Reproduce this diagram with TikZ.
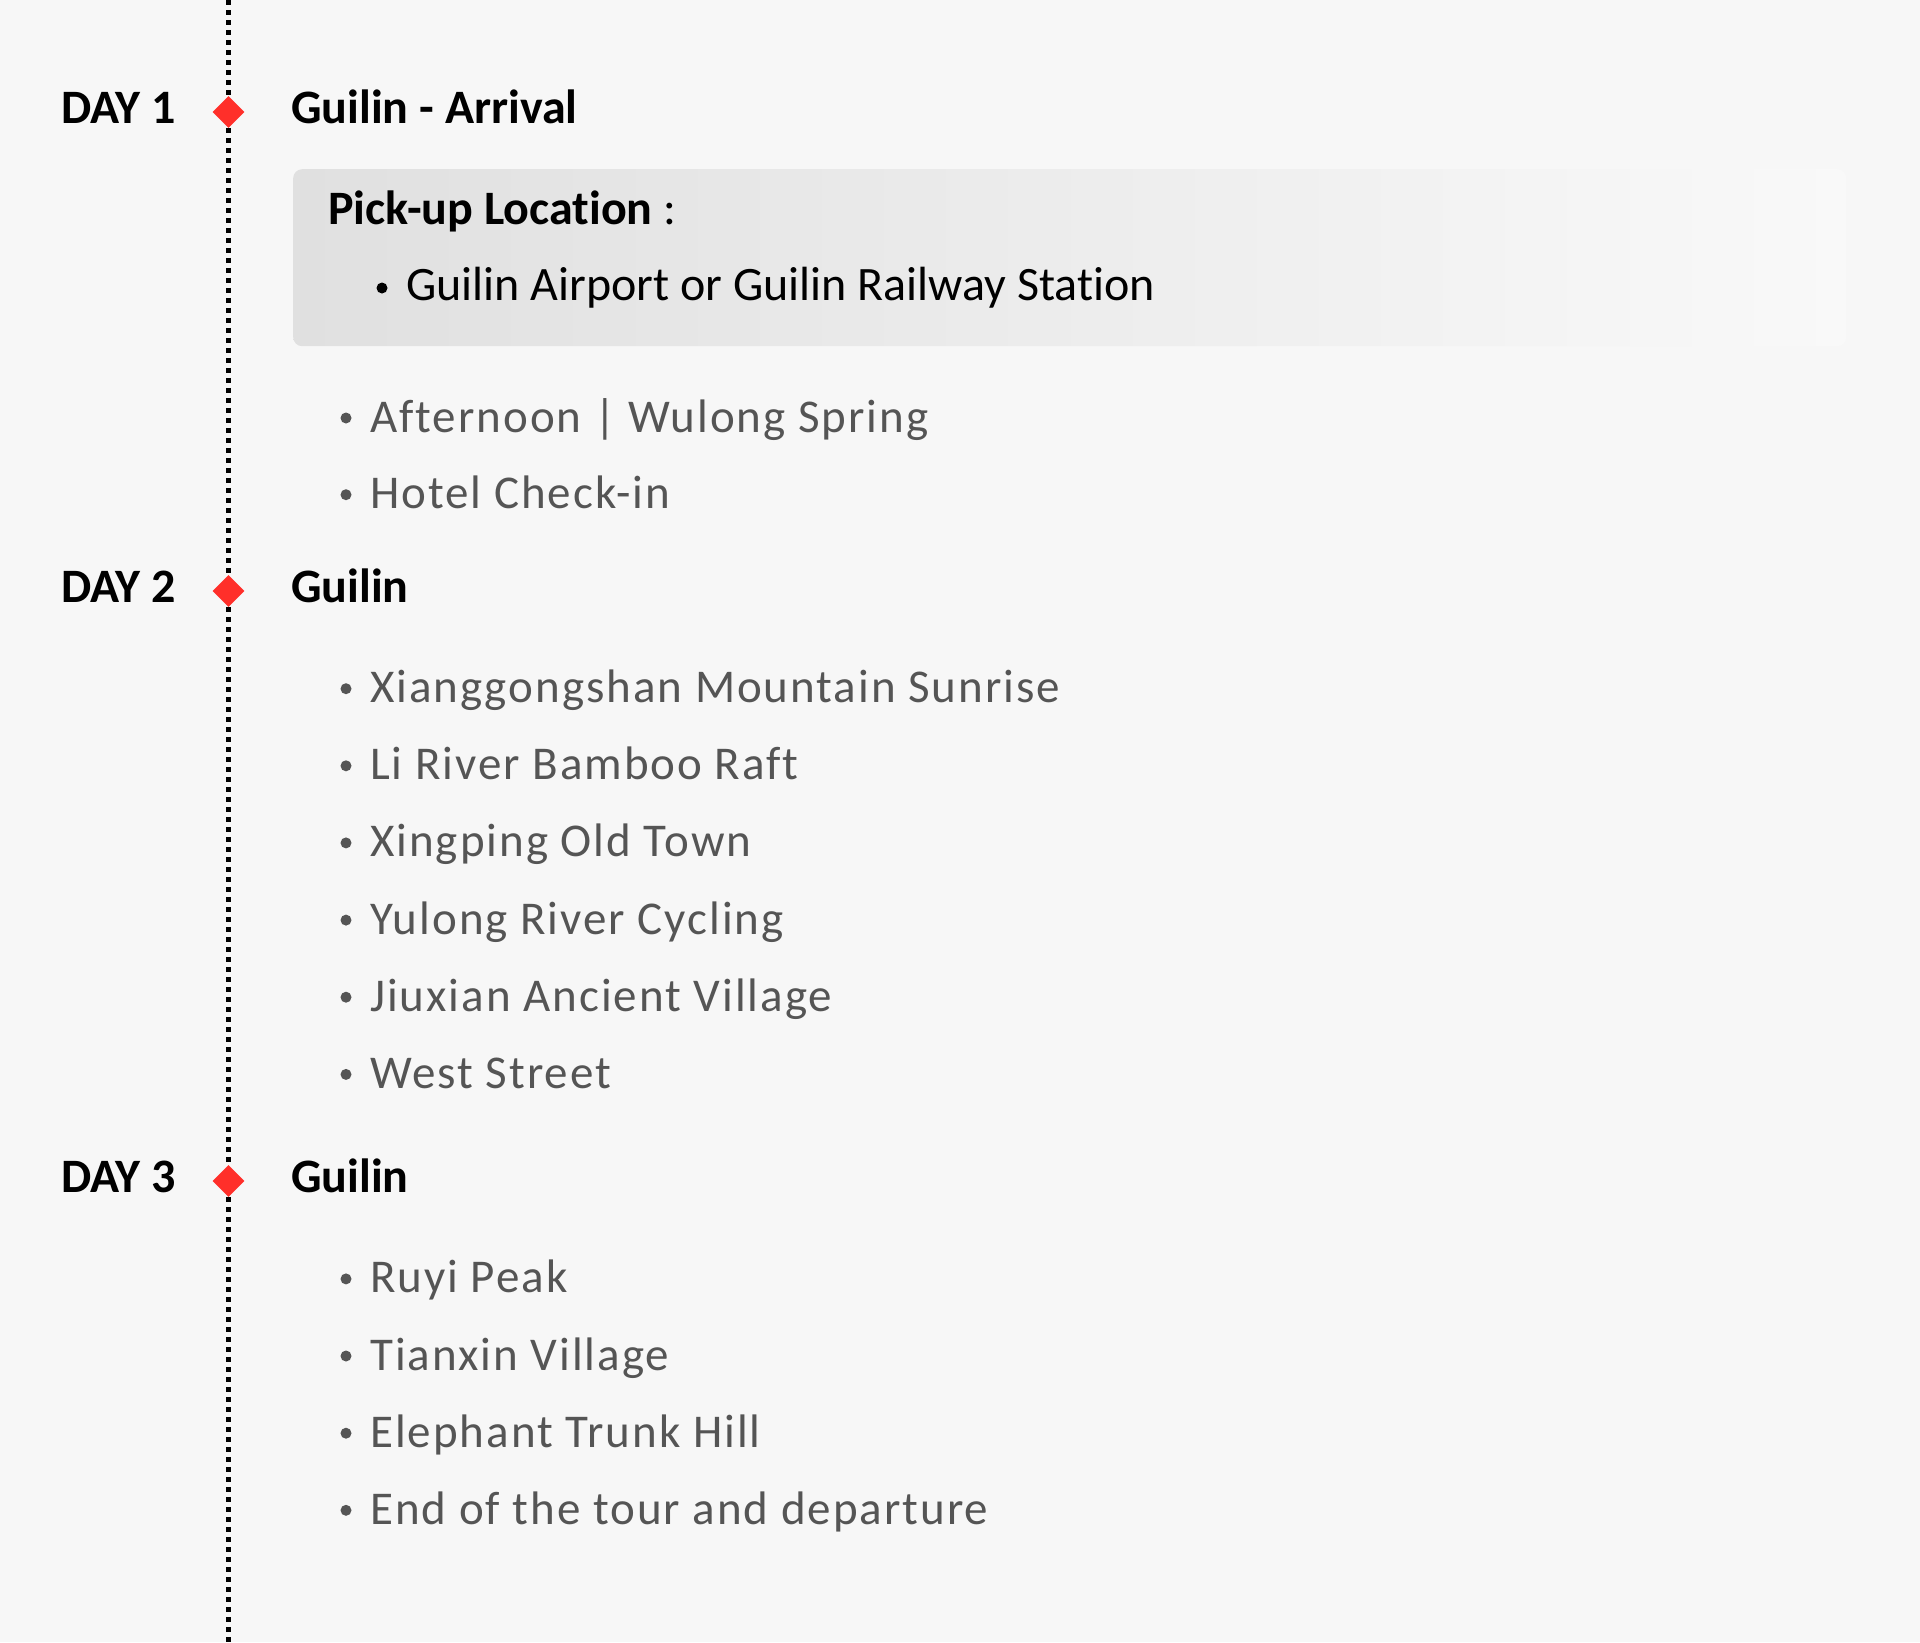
\documentclass[tikz,border=0pt]{standalone}
\usepackage{fontspec}
\setmainfont{Carlito}[Ligatures={NoCommon}]
\newfontfamily\itemfont{Carlito}[LetterSpace=4.2,Ligatures={NoCommon}]
\usetikzlibrary{shapes.geometric}
\definecolor{bgc}{HTML}{F7F7F7}
\definecolor{itemgray}{HTML}{555555}
\definecolor{markred}{HTML}{FF2F2A}
\definecolor{boxl}{HTML}{E0E0E0}
\definecolor{boxr}{HTML}{F9F9F9}
\begin{document}
\begin{tikzpicture}[x=1pt,y=-1pt,
  hdr/.style={anchor=base west, inner sep=0, text=black, font=\fontsize{48}{58}\selectfont\bfseries},
  itm/.style={anchor=base west, inner sep=0, text=itemgray, font=\itemfont\fontsize{47}{56}\selectfont},
  bul/.style={circle, fill=itemgray, inner sep=0, minimum size=11},
  marker/.style={diamond, aspect=1, fill=markred, inner sep=0, minimum width=32, minimum height=32},
  timeline/.style={line width=4.5, dash pattern=on 5 off 5, draw=black}
]
\fill[bgc] (0,0) rectangle (1920,1642);
\useasboundingbox (0,0) rectangle (1920,1642);

% day markers
\node[marker] (d1) at (228.5,112) {};
\node[marker] (d2) at (228.5,591) {};
\node[marker] (d3) at (228.5,1181) {};
\coordinate (top) at (228.5,0);
\coordinate (bot) at (228.5,1642);
\draw[timeline] (top) -- (d1) -- (d2) -- (d3) -- (bot);

% day labels and titles
\node[hdr] (l1) at (61,123) {DAY 1};
\node[hdr] (t1) at (291,123) {Guilin - Arrival};
\node[hdr] (l2) at (61,602) {DAY 2};
\node[hdr] (t2) at (291,602) {Guilin};
\node[hdr] (l3) at (61,1192) {DAY 3};
\node[hdr] (t3) at (291,1192) {Guilin};

% pick-up box
\node[anchor=north west, inner sep=0, minimum width=1553, minimum height=177,
      rounded corners=9, left color=boxl, right color=boxr] (box) at (293,169) {};
\node[anchor=base west, inner sep=0, font=\fontsize{48}{58}\selectfont] (pk) at (328,224)
  {\textbf{Pick-up Location} :};
\node[bul, fill=black] (pb) at (382,288) {};
\node[anchor=base west, inner sep=0, font=\fontsize{48}{58}\selectfont] (pl) at (406,300)
  {Guilin Airport or Guilin Railway Station};

% day 1 items
\node[bul] (b11) at (346,418) {};
\node[itm] (i11) at (370,432) {Afternoon | Wulong Spring};
\node[bul] (b12) at (346,494.7) {};
\node[itm] (i12) at (370,508.7) {Hotel Check-in};

% day 2 items
\node[bul] (b21) at (346,688.7) {};
\node[itm] (i21) at (370,702.7) {Xianggongshan Mountain Sunrise};
\node[bul] (b22) at (346,765.8) {};
\node[itm] (i22) at (370,779.8) {Li River Bamboo Raft};
\node[bul] (b23) at (346,842.9) {};
\node[itm] (i23) at (370,856.9) {Xingping Old Town};
\node[bul] (b24) at (346,920.1) {};
\node[itm] (i24) at (370,934.1) {Yulong River Cycling};
\node[bul] (b25) at (346,997.2) {};
\node[itm] (i25) at (370,1011.2) {Jiuxian Ancient Village};
\node[bul] (b26) at (346,1074.4) {};
\node[itm] (i26) at (370,1088.4) {West Street};

% day 3 items
\node[bul] (b31) at (346,1278.9) {};
\node[itm] (i31) at (370,1292.9) {Ruyi Peak};
\node[bul] (b32) at (346,1356) {};
\node[itm] (i32) at (370,1370) {Tianxin Village};
\node[bul] (b33) at (346,1433.2) {};
\node[itm] (i33) at (370,1447.2) {Elephant Trunk Hill};
\node[bul] (b34) at (346,1510.3) {};
\node[itm] (i34) at (370,1524.3) {End of the tour and departure};
\end{tikzpicture}
\end{document}
